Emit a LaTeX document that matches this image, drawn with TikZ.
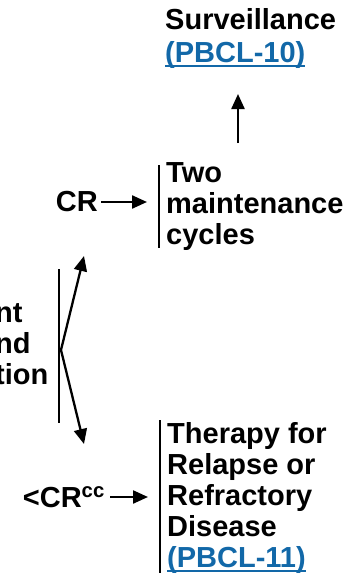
\documentclass[tikz,border=0pt]{standalone}
\usepackage{fontspec}
\setmainfont{Liberation Sans}
\usetikzlibrary{arrows.meta}

\definecolor{linkblue}{RGB}{18,104,168}

% blue underlined reference
\newcommand\linkref[1]{\textcolor{linkblue}{\setbox0\hbox{#1}\rlap{\rule[-5pt]{\wd0}{1.8pt}}\box0}}

\tikzset{
    txt/.style={font=\bfseries\fontsize{29}{31}\selectfont, align=left, inner sep=0pt},
    bar/.style={line width=2.8pt},
    arr/.style={line width=2.3pt, -{Triangle[length=15pt,width=13pt]}}
}

\begin{document}
\begin{tikzpicture}[x=1pt,y=-1pt]

            \useasboundingbox (0,0) rectangle (364,576);

            % texts (base = last line)
            \node[txt, anchor=base west] (surv) at (165,62)
                {Surveillance\\[2pt]\linkref{(PBCL-10)}};
            \node[txt, anchor=base west] (two) at (166,244)
                {Two\\maintenance\\cycles};
            \node[txt, anchor=base west] (ther) at (167,567)
                {Therapy for\\Relapse or\\Refractory\\Disease\\\linkref{(PBCL-11)}};
            \node[txt, anchor=base west] (start) at (-5,384)
                {nt\\nd\\tion};
            \node[txt, anchor=east] (cr) at (98,202) {CR};
            \node[txt, anchor=base east] (lcr) at (105,507) {<CR\textsuperscript{cc}};

            % ends of the arrows
            \coordinate (survTip) at (238,94);
            \coordinate (twoTop) at (238,143);
            \coordinate (crTip) at (147,202);
            \coordinate (lcrTip) at (148,497);
            \coordinate (fork) at (61,350);
            \coordinate (upTip) at (84,256);
            \coordinate (dnTip) at (84,444);

            % bars
            \scope[bar]
            \draw (59,269) -- (59,423);
            \draw (159,165) -- (159,248);
            \draw (160,420) -- (160,573);
            \endscope

            % arrows
            \draw[arr] (twoTop) -- (survTip);
            \draw[arr, shorten <=3pt] (cr) -- (crTip);
            \draw[arr, shorten <=5pt] (lcr.east |- lcrTip) -- (lcrTip);
            \draw[arr] (fork) -- (upTip);
            \draw[arr] (fork) -- (dnTip);
\end{tikzpicture}
\end{document}
